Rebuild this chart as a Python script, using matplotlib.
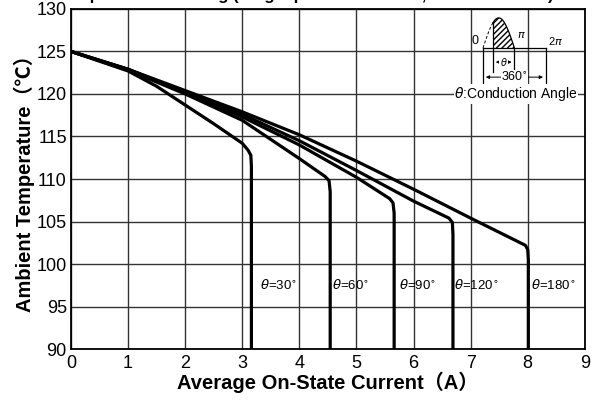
#Ambient temperature vs average on-state current, per conduction angle
import matplotlib.pyplot as plt
import numpy as np

plt.rcParams['font.family'] = ['Liberation Sans', 'Noto Sans CJK JP', 'DejaVu Sans']

#Curve data
cur_30 = [0, 1, 1.5, 2, 2.5, 3.0, 3.1, 3.15, 3.16, 3.16]
temp_30 = [125, 122.7, 120.9, 118.7, 116.5, 114.2, 113.4, 112.8, 111.5, 90]
cur_60 = [0, 1, 2, 3, 4, 4.45, 4.52, 4.54, 4.54]
temp_60 = [125, 122.8, 120.0, 116.9, 112.4, 110.3, 109.8, 108.5, 90]
cur_90 = [0, 1, 2, 3, 4, 5, 5.58, 5.64, 5.66, 5.66]
temp_90 = [125, 122.9, 120.1, 117.3, 114.0, 110.2, 107.7, 107.2, 106, 90]
cur_120 = [0, 1, 2, 3, 4, 5, 6, 6.62, 6.68, 6.69, 6.69]
temp_120 = [125, 122.9, 120.2, 117.6, 114.5, 111.0, 107.4, 105.4, 104.9, 103.5, 90]
cur_180 = [0, 1, 2, 3, 4, 5, 6, 7, 7.96, 8.0, 8.01, 8.01]
temp_180 = [125, 122.9, 120.4, 117.9, 115.2, 112.1, 108.8, 105.4, 102.2, 101.7, 100.5, 90]

labels = [r'$\theta$=30$^{\circ}$', r'$\theta$=60$^{\circ}$', r'$\theta$=90$^{\circ}$',
          r'$\theta$=120$^{\circ}$', r'$\theta$=180$^{\circ}$']
label_x = [3.63, 4.9, 6.07, 7.1, 8.45]
label_y = 97.5

xticks = np.arange(0, 10, 1)
yticks = np.arange(90, 135, 5)

fig = plt.figure(figsize=(5.98, 4.05), dpi=100)
ax = fig.add_axes([0.1187, 0.138, 0.8593, 0.840])

#Plot curves
for c, t in [(cur_30, temp_30), (cur_60, temp_60), (cur_90, temp_90),
             (cur_120, temp_120), (cur_180, temp_180)]:
    ax.plot(c, t, color='black', lw=2.3, solid_joinstyle='round', zorder=3)

for lx, lb in zip(label_x, labels):
    ax.text(lx, label_y, lb, ha='center', va='center', fontsize=9.5)

ax.set_xlim(0, 9)
ax.set_ylim(90, 130)
ax.set_xticks(xticks)
ax.set_yticks(yticks)
ax.tick_params(length=0, labelsize=13)
ax.tick_params(axis='x', pad=4)
ax.tick_params(axis='y', pad=3)
ax.grid(color='#333333', lw=1.0)
for s in ax.spines.values():
    s.set_linewidth(1.3)

ax.set_xlabel('Average On-State Current\uff08A\uff09', fontsize=14.5, fontweight='bold', labelpad=0)
ax.set_ylabel('Ambient Temperature\uff08\u2103\uff09', fontsize=14.5, fontweight='bold', labelpad=1)

#Cut off title at top
fig.text(0.51, 1.0, 'Temperature Derating (Single-phase half-wave, Resistive Load)',
         ha='center', va='baseline', fontsize=12, fontweight='bold')

#Inset waveform sketch
ins = fig.add_axes([456 / 598, 1 - 106 / 405, 116 / 598, 92 / 405])
ins.set_xlim(-2.7, 8.9)
ins.set_ylim(-1.93, 1.13)
ins.set_facecolor('white')
ins.axis('off')
ins.patch.set_visible(True)

th = 1.0
x_dash = np.linspace(0, th, 20)
x_fill = np.linspace(th, np.pi, 40)
ins.plot(x_dash, np.sin(x_dash), color='black', lw=0.7, ls=(0, (3, 2)))
ins.plot(x_fill, np.sin(x_fill), color='black', lw=0.9)
ins.fill_between(x_fill, 0, np.sin(x_fill), facecolor='white', edgecolor='black',
                 hatch='//////', lw=0)
ins.plot([0, 2 * np.pi], [0, 0], color='black', lw=0.9)
ins.plot([th, th], [np.sin(th), -0.8], color='black', lw=0.9)
ins.plot([np.pi, np.pi], [0, -0.8], color='black', lw=0.9)
ins.plot([0, 0], [0, -1.17], color='black', lw=0.9)
ins.plot([2 * np.pi, 2 * np.pi], [0, -1.17], color='black', lw=0.9)
ins.annotate('', xy=(th, -0.47), xytext=(np.pi, -0.47),
             arrowprops=dict(arrowstyle='<|-|>', lw=0.7, color='black', mutation_scale=5))
ins.text((th + np.pi) / 2, -0.47, r'$\theta$', ha='center', va='center', fontsize=7,
         bbox=dict(facecolor='white', edgecolor='none', pad=0.3))
ins.annotate('', xy=(0, -0.97), xytext=(2 * np.pi, -0.97),
             arrowprops=dict(arrowstyle='<|-|>', lw=0.7, color='black', mutation_scale=5))
ins.text(np.pi, -0.97, '360$^{\\circ}$', ha='center', va='center', fontsize=9,
         bbox=dict(facecolor='white', edgecolor='none', pad=0.3))
ins.text(-0.4, 0.02, '0', ha='right', va='bottom', fontsize=9)
ins.text(np.pi + 0.3, 0.25, r'$\pi$', ha='left', va='bottom', fontsize=8)
ins.text(2 * np.pi + 0.2, 0.02, r'2$\pi$', ha='left', va='bottom', fontsize=8)
ins.text(3.3, -1.53, r'$\theta$:Conduction Angle', ha='center', va='center', fontsize=10,
         bbox=dict(facecolor='white', edgecolor='none', pad=0.5), clip_on=False)

fig.savefig('out.png', dpi=100)
